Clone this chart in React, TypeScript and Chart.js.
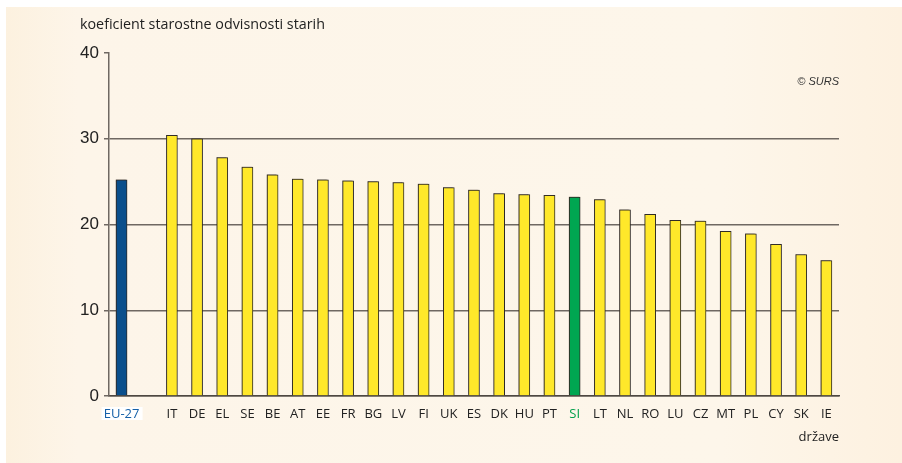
import React, { useEffect, useRef } from "react";
import { Chart, registerables } from "chart.js";

Chart.register(...registerables);

const categories = ["EU-27", "", "IT", "DE", "EL", "SE", "BE", "AT", "EE", "FR", "BG", "LV", "FI", "UK", "ES", "DK", "HU", "PT", "SI", "LT", "NL", "RO", "LU", "CZ", "MT", "PL", "CY", "SK", "IE"];
const values: (number | null)[] = [25.2, null, 30.4, 30.0, 27.8, 26.7, 25.8, 25.3, 25.2, 25.1, 25.0, 24.9, 24.7, 24.3, 24.0, 23.6, 23.5, 23.4, 23.2, 22.9, 21.7, 21.2, 20.5, 20.4, 19.2, 18.9, 17.7, 16.5, 15.8];
const yTicks = [0, 10, 20, 30, 40];

const titleText = "koeficient starostne odvisnosti starih";
const xAxisTitle = "države";
const copyrightText = "© SURS";

const BLUE = "#0a4f8c";
const GREEN = "#00a651";
const YELLOW = "#ffe82a";

function barColor(label: string): string {
  if (label === "EU-27") return BLUE;
  if (label === "SI") return GREEN;
  return YELLOW;
}
function labelColor(label: string): string {
  if (label === "EU-27") return "#1560a8";
  if (label === "SI") return "#00a04b";
  return "#222222";
}

const shadowPlugin = {
  id: "barShadow",
  beforeDatasetsDraw(chart: any) {
    const ctx = chart.ctx;
    ctx.save();
    ctx.shadowColor = "rgba(60,50,40,0.45)";
    ctx.shadowOffsetX = -1.5;
    ctx.shadowOffsetY = -1;
    ctx.shadowBlur = 1;
  },
  afterDatasetsDraw(chart: any) {
    chart.ctx.restore();
  },
};

const labelBoxPlugin = {
  id: "labelBox",
  beforeDraw(chart: any) {
    const x = chart.scales.x.getPixelForTick(0);
    const ctx = chart.ctx;
    ctx.save();
    ctx.fillStyle = "#ffffff";
    ctx.fillRect(x - 20, 407, 41, 13);
    ctx.restore();
  },
};

export default function App() {
  const ref = useRef<HTMLCanvasElement | null>(null);

  useEffect(() => {
    if (!ref.current) return;
    const chart = new Chart(ref.current, {
      type: "bar",
      data: {
        labels: categories,
        datasets: [
          {
            data: values,
            backgroundColor: categories.map(barColor),
            borderColor: "#2e2a26",
            borderWidth: 1,
            barThickness: 11,
          },
        ],
      },
      options: {
        animation: false,
        responsive: false,
        maintainAspectRatio: false,
        layout: { padding: { top: 53, right: 63, left: 0, bottom: 0 } },
        plugins: {
          legend: { display: false },
          tooltip: { enabled: false },
          title: { display: false },
        },
        scales: {
          x: {
            offset: true,
            grid: { display: false, drawTicks: false },
            border: { display: true, color: "#4e4842", width: 1.5 },
            ticks: {
              autoSkip: false,
              maxRotation: 0,
              padding: 10,
              font: { family: "'Open Sans', 'Noto Sans', sans-serif", size: 13 },
              color: (c: any) => labelColor(categories[c.index] ?? ""),
            },
            afterFit: (s: any) => {
              s.height = 67;
            },
          },
          y: {
            min: 0,
            max: 40,
            afterBuildTicks: (s: any) => {
              s.ticks = yTicks.map((v) => ({ value: v }));
            },
            grid: {
              color: (c: any) => (c.tick && c.tick.value === 40 ? "rgba(0,0,0,0)" : "#6f6862"),
              tickColor: "#6f6862",
              lineWidth: 1.5,
              drawTicks: true,
              tickLength: 5,
            },
            border: { display: true, color: "#6f6862", width: 1.5 },
            ticks: {
              padding: 5,
              font: { family: "'Liberation Sans', Arial, sans-serif", size: 17 },
              color: "#222222",
            },
            afterFit: (s: any) => {
              s.width = 109;
            },
          },
        },
      },
      plugins: [shadowPlugin, labelBoxPlugin],
    });
    return () => chart.destroy();
  }, []);

  return (
    <div style={{ position: "fixed", left: 0, top: 0, right: 0, bottom: 0, background: "#ffffff", overflow: "hidden" }}>
      <div
        style={{
          position: "absolute",
          left: 6,
          top: 7,
          right: 0,
          bottom: 0,
          background: "linear-gradient(to right, #fcf1df 0%, #fdf5e9 8%, #fdf6ea 80%, #fdf1e0 100%)",
        }}
      />
      <canvas ref={ref} width={902} height={463} style={{ position: "absolute", left: 0, top: 0, width: 902, height: 463 }} />
      <div
        style={{
          position: "absolute",
          left: 80,
          top: 14,
          fontFamily: "'Open Sans', 'Noto Sans', sans-serif",
          fontSize: 14.3,
          lineHeight: "19px",
          color: "#222",
          whiteSpace: "nowrap",
        }}
      >
        {titleText}
      </div>
      <div
        style={{
          position: "absolute",
          left: 0,
          width: 839,
          textAlign: "right",
          top: 73,
          fontFamily: "'Liberation Sans', Arial, sans-serif",
          fontStyle: "italic",
          fontSize: 11,
          lineHeight: "16px",
          color: "#333",
          whiteSpace: "nowrap",
        }}
      >
        {copyrightText}
      </div>
      <div
        style={{
          position: "absolute",
          left: 0,
          width: 839,
          textAlign: "right",
          top: 427,
          fontFamily: "'Open Sans', 'Noto Sans', sans-serif",
          fontSize: 13,
          lineHeight: "18px",
          color: "#222",
          whiteSpace: "nowrap",
        }}
      >
        {xAxisTitle}
      </div>
    </div>
  );
}
